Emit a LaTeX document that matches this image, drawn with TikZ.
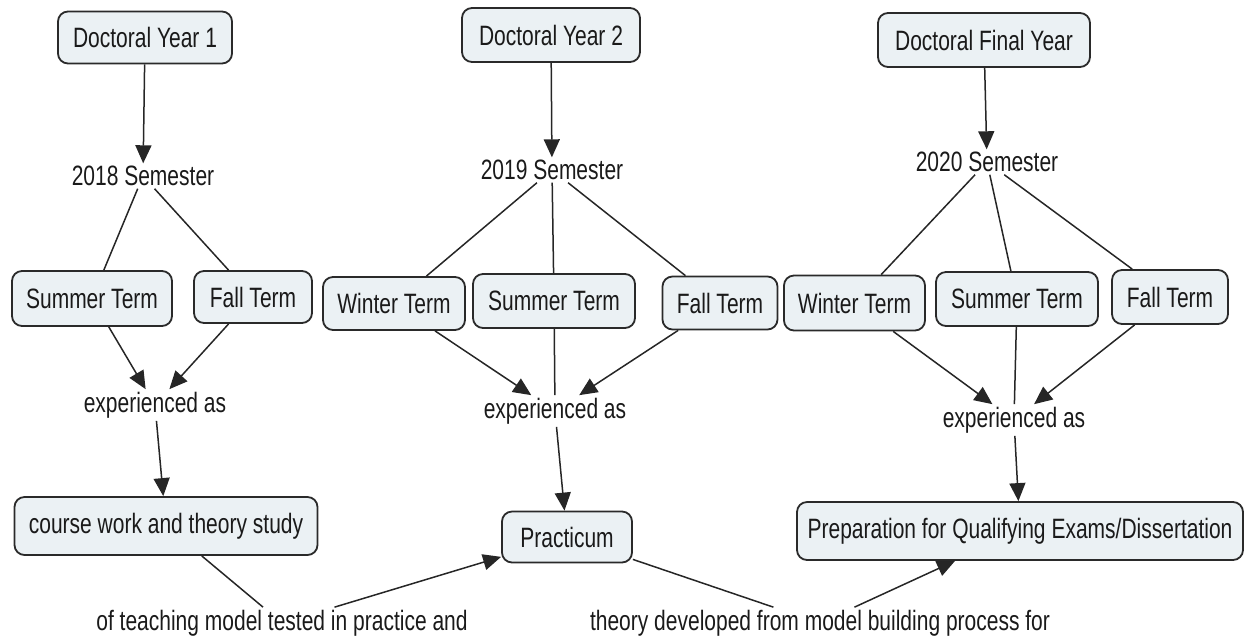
\documentclass[tikz,border=0pt]{standalone}
\usepackage{fontspec}
\setmainfont{Liberation Sans}[FakeStretch=0.75]
\usetikzlibrary{arrows.meta}

\definecolor{boxfill}{HTML}{EBF1F4}
\definecolor{boxline}{HTML}{2A2A2A}
\definecolor{inktext}{HTML}{1A1A1A}

\begin{document}
\begin{tikzpicture}[
  x=0.5pt, y=-0.5pt,
  font=\fontsize{14}{16}\selectfont,
  concept/.style={draw=boxline, fill=boxfill, rounded corners=5pt,
    line width=0.9pt, inner sep=0pt, text=inktext},
  wh/.style 2 args={minimum width=#1*0.5pt, minimum height=#2*0.5pt},
  phrase/.style={inner sep=1.2pt, text=inktext},
  link/.style={draw=black!85, line width=0.75pt},
  linkto/.style={link, -{Triangle[length=9pt,width=8pt]}}
]
\useasboundingbox (0,0) rectangle (1252,639);

% year headings
\node[concept, wh={174}{52}] (dy1) at (145,37.5) {Doctoral Year 1};
\node[concept, wh={178}{54}] (dy2) at (551,35) {Doctoral Year 2};
\node[concept, wh={212}{54}] (dfy) at (984,40) {Doctoral Final Year};

% semesters
\node[phrase] (s18) at (143,176) {2018 Semester};
\node[phrase] (s19) at (552,170) {2019 Semester};
\node[phrase] (s20) at (987,162) {2020 Semester};

% terms
\node[concept, wh={160}{55}] (t1s) at (92,298.5) {Summer Term};
\node[concept, wh={118}{52}] (t1f) at (253,297) {Fall Term};
\node[concept, wh={142}{53}] (t2w) at (394,303.5) {Winter Term};
\node[concept, wh={162}{54}] (t2s) at (554,301) {Summer Term};
\node[concept, wh={115}{53}] (t2f) at (720,303) {Fall Term};
\node[concept, wh={141}{55}] (t3w) at (854.5,303) {Winter Term};
\node[concept, wh={162}{54}] (t3s) at (1017,299) {Summer Term};
\node[concept, wh={116}{54}] (t3f) at (1170,297) {Fall Term};

% linking phrases
\node[phrase] (e1) at (155,405) {experienced as};
\node[phrase] (e2) at (555,411) {experienced as};
\node[phrase] (e3) at (1014,420) {experienced as};

% outcomes
\node[concept, wh={303}{58}] (cw) at (166,526) {course work and theory study};
\node[concept, wh={130}{51}] (pr) at (567,537) {Practicum};
\node[concept, wh={446}{58}] (prep) at (1020,531) {Preparation for Qualifying Exams/Dissertation};

% bottom linking phrases
\node[phrase] (b1) at (282,623) {of teaching model tested in practice and};
\node[phrase] (b2) at (820,623) {theory developed from model building process for};

% year to semester
\draw[linkto] (dy1) -- (s18);
\draw[linkto] (dy2) -- (s19);
\draw[linkto] (dfy) -- (s20);

% semester to terms
\draw[link] (s18) -- (t1s);
\draw[link] (s18) -- (t1f);
\draw[link] (s19) -- (t2w);
\draw[link] (s19) -- (t2s);
\draw[link] (s19) -- (t2f);
\draw[link] (s20) -- (t3w);
\draw[link] (s20) -- (t3s);
\draw[link] (s20) -- (t3f);

% terms to "experienced as"
\draw[linkto] (t1s) -- (e1);
\draw[linkto] (t1f) -- (e1);
\draw[linkto] (t2w) -- (e2);
\draw[link] (t2s) -- (e2);
\draw[linkto] (t2f) -- (e2);
\draw[linkto] (t3w) -- (e3);
\draw[link] (t3s) -- (e3);
\draw[linkto] (t3f) -- (e3);

% "experienced as" to outcomes
\draw[linkto] (e1) -- (cw);
\draw[linkto] (e2) -- (pr);
\draw[linkto] (e3) -- (prep);

% cross links along the bottom
\draw[link] (cw) -- (b1);
\draw[linkto] (b1) -- (pr);
\draw[link] (pr) -- (b2);
\draw[linkto] (b2) -- (prep);
\end{tikzpicture}
\end{document}
